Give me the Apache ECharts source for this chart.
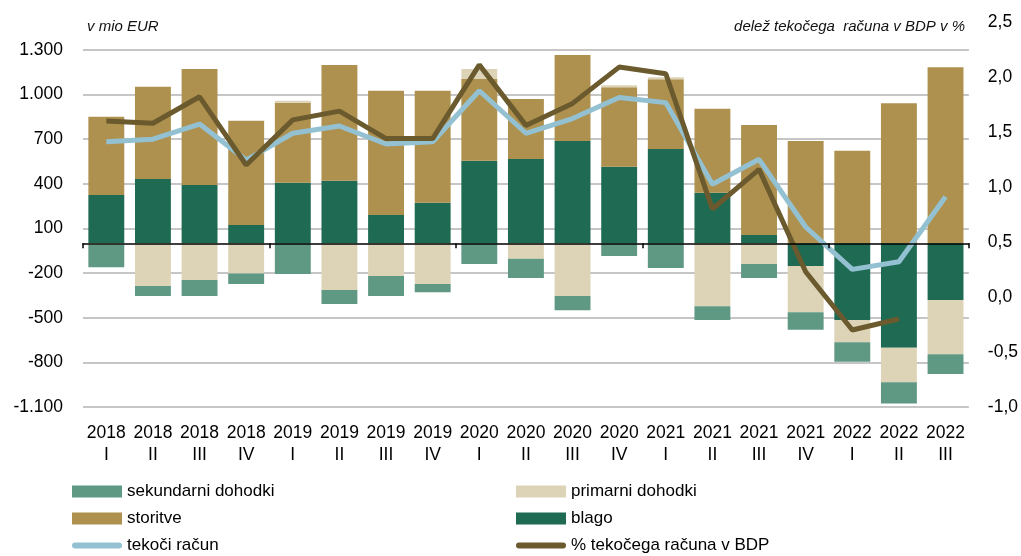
<!DOCTYPE html>
<html>
<head>
<meta charset="utf-8">
<script src="https://cdn.jsdelivr.net/npm/echarts@6/dist/echarts.min.js"></script>
<style>
html,body{margin:0;padding:0;background:#fff;}
#chart{width:1021px;height:556px;}
</style>
</head>
<body>
<div id="chart"></div>
<script>
const categories = ['2018\nI','2018\nII','2018\nIII','2018\nIV','2019\nI','2019\nII','2019\nIII','2019\nIV','2020\nI','2020\nII','2020\nIII','2020\nIV','2021\nI','2021\nII','2021\nIII','2021\nIV','2022\nI','2022\nII','2022\nIII'];
const blago      = [325, 432, 392, 123, 408, 421, 190, 273, 556, 567, 688, 515, 634, 340, 56, -153, -516, -702, -381];
const storitve   = [526, 621, 780, 702, 538, 778, 836, 753, 549, 404, 578, 534, 469, 565, 740, 688, 623, 942, 1184];
const primarni   = [-10, -287, -247, -202, 13, -314, -220, -274, 67, -103, -354, 14, 14, -422, -139, -310, -148, -231, -364];
const sekundarni = [-150, -67, -107, -72, -206, -94, -134, -54, -139, -130, -95, -85, -166, -94, -94, -117, -132, -143, -134];
const tekociRacun = [683, 700, 802, 560, 740, 789, 668, 683, 1026, 740, 839, 980, 946, 397, 565, 110, -175, -124, 313];
const delezBDP   = [1.60, 1.58, 1.82, 1.20, 1.61, 1.69, 1.44, 1.44, 2.11, 1.56, 1.76, 2.09, 2.03, 0.80, 1.16, 0.23, -0.30, -0.20, null];
const leftTicks  = [-1100, -800, -500, -200, 100, 400, 700, 1000, 1300];

const FONT = '"Liberation Sans",Arial,sans-serif';
const C = {
  sek: '#5f9883', prim: '#ddd4b7', stor: '#ae914f', blago: '#1f6a52',
  tek: '#94c1d2', pct: '#6b5a2e'
};
function fmtLeft(v){
  const s = Math.abs(v).toString().replace(/\B(?=(\d{3})+(?!\d))/g, '.');
  return (v < 0 ? '-' : '') + s;
}
function fmtRight(v){ return v.toFixed(1).replace('.', ','); }

const chart = echarts.init(document.getElementById('chart'), null, {renderer:'canvas'});
const barBase = {type:'bar', stack:'tot', barCategoryGap:'23%', xAxisIndex:0, yAxisIndex:0};
const lineIcon = 'path://M3,0 L47,0 A3,3 0 0 1 47,6 L3,6 A3,3 0 0 1 3,0 Z';
function leg(name, left, top, icon){
  return {
    data:[name], left:left, top:top, padding:0, itemGap:0,
    itemWidth:50, itemHeight: icon ? 6 : 12, icon: icon || 'rect',
    textStyle:{fontFamily:FONT, fontSize:17, color:'#000', padding:[0,0,0,0]},
    selectedMode:false
  };
}
chart.setOption({
  animation:false,
  grid:{left:83, right:51, top:22, bottom:149, containLabel:false},
  graphic:[
    {type:'text', left:87, top:19, style:{text:'v mio EUR', font:'italic 15px '+FONT, fill:'#111'}},
    {type:'text', right:56, top:19, style:{text:'delež tekočega  računa v BDP v %', font:'italic 15px '+FONT, fill:'#111'}}
  ],
  legend:[
    leg('sekundarni dohodki', 72, 483),
    leg('primarni dohodki', 516, 483),
    leg('storitve', 72, 510),
    leg('blago', 516, 510),
    leg('tekoči račun', 72, 537, lineIcon),
    leg('% tekočega računa v BDP', 516, 537, lineIcon)
  ],
  xAxis:[
    {type:'category', data:categories, position:'bottom', boundaryGap:true,
     axisLine:{show:false, onZero:false}, axisTick:{show:false},
     axisLabel:{fontFamily:FONT, fontSize:17.5, color:'#000', lineHeight:22, margin:15, interval:0}},
    {type:'category', data:categories, position:'top', boundaryGap:true,
     axisLine:{show:true, onZero:true, onZeroAxisIndex:0, lineStyle:{color:'#000', width:1.5}},
     axisTick:{show:true, interval:3, inside:true, length:5, lineStyle:{color:'#000', width:1.5}},
     axisLabel:{show:false}, splitLine:{show:false}, z:10}
  ],
  yAxis:[
    {type:'value', min:-1100, max:1488, position:'left',
     axisLine:{show:false}, axisTick:{show:false, customValues:leftTicks},
     axisLabel:{customValues:leftTicks, formatter:fmtLeft, fontFamily:FONT, fontSize:17.5, color:'#000', margin:20},
     splitLine:{show:true, lineStyle:{color:'#b3b3b3', width:1.5}}},
    {type:'value', min:-1, max:2.5, interval:0.5, position:'right',
     axisLine:{show:false}, axisTick:{show:false}, splitLine:{show:false},
     axisLabel:{formatter:fmtRight, fontFamily:FONT, fontSize:17.5, color:'#000', margin:19}}
  ],
  series:[
    Object.assign({}, barBase, {name:'blago', data:blago, itemStyle:{color:C.blago}}),
    Object.assign({}, barBase, {name:'storitve', data:storitve, itemStyle:{color:C.stor}}),
    Object.assign({}, barBase, {name:'primarni dohodki', data:primarni, itemStyle:{color:C.prim}}),
    Object.assign({}, barBase, {name:'sekundarni dohodki', data:sekundarni, itemStyle:{color:C.sek}}),
    {type:'line', name:'tekoči račun', data:tekociRacun, yAxisIndex:0, symbol:'none',
     lineStyle:{color:C.tek, width:5}, itemStyle:{color:C.tek}, z:5},
    {type:'line', name:'% tekočega računa v BDP', data:delezBDP, yAxisIndex:1, symbol:'none',
     lineStyle:{color:C.pct, width:5}, itemStyle:{color:C.pct}, z:6}
  ]
});
</script>
</body>
</html>
